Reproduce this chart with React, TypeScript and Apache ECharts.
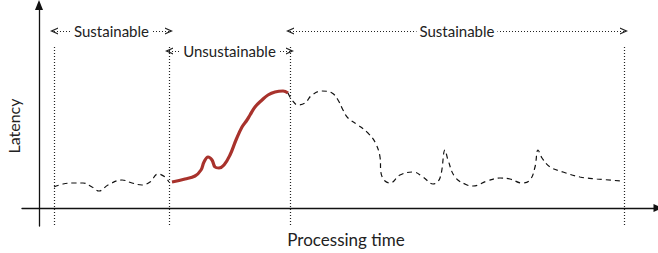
import React, { useEffect, useRef } from "react";
import * as echarts from "echarts";

// Processing time (x) and latency (y), in arbitrary units
const phase1X = [15, 24, 34, 44, 53, 60, 69, 83, 93, 103, 111, 119, 126, 130];
const phase1Y = [21, 24, 25, 25, 21, 17, 23, 28, 25, 23, 26, 34, 31, 26];

const phase2X = [133, 146, 156, 162, 165, 169, 173, 176, 180, 185, 191, 197, 203, 208, 211, 216, 223, 229, 236, 244, 249];
const phase2Y = [26, 29, 32, 38, 46, 51, 48, 41, 40, 43, 53, 68, 81, 88, 93, 101, 108, 113, 116, 117, 115];

const phase3X = [249, 253, 259, 266, 273, 283, 293, 299, 304, 309, 319, 329, 336, 341, 342, 346, 351, 361, 374, 384, 394, 401, 406, 409, 416, 428, 434, 448, 461, 471, 483, 491, 496, 499, 503, 511, 524, 541, 558, 583];
const phase3Y = [115, 108, 103, 105, 113, 117, 115, 108, 98, 90, 83, 75, 66, 51, 35, 27, 25, 33, 36, 31, 24, 30, 58, 48, 31, 23, 22, 27, 30, 29, 25, 28, 41, 58, 50, 41, 36, 31, 29, 27];

// Phase boundaries (x) and annotations
const boundaries = [15, 130, 251, 585];
const phaseNames = ["Sustainable", "Unsustainable", "Sustainable"];
const phaseLabelLevel = [177, 157, 177];
const boundaryLow = -17;
const boundaryHigh = 163;

const xTitle = "Processing time";
const yTitle = "Latency";

const zip = (xs: number[], ys: number[]) => xs.map((x, i) => [x, ys[i]]);

const FONT = "Lato, 'Open Sans', sans-serif";
const chevron = "path://M0,8 L4,0 L8,8 L6.5,8 L4,3 L1.5,8 Z";

export default function App() {
  const ref = useRef<HTMLDivElement>(null);

  useEffect(() => {
    if (!ref.current) return;
    const chart = echarts.init(ref.current, null, { renderer: "svg" });

    const verticals = boundaries.map((b) => [
      { coord: [b, boundaryLow] },
      { coord: [b, boundaryHigh] },
    ]);

    const bands = phaseNames.map((name, i) => [
      {
        coord: [boundaries[i], phaseLabelLevel[i]],
        symbol: chevron,
        symbolSize: [7, 8],
        label: {
          show: true,
          position: "insideMiddle",
          formatter: name,
          color: "#222",
          fontFamily: FONT,
          fontSize: 15,
          backgroundColor: "#fff",
          padding: [0, 3],
        },
        lineStyle: { type: [1, 2], width: 1, color: "#222" },
      },
      { coord: [boundaries[i + 1], phaseLabelLevel[i]], symbol: chevron, symbolSize: [7, 8] },
    ]);

    chart.setOption({
      animation: false,
      grid: { left: 22, right: 0, top: 5, bottom: 27 },
      xAxis: {
        type: "value",
        min: -17,
        max: 619,
        axisLine: {
          show: true,
          onZero: true,
          symbol: ["none", "triangle"],
          symbolSize: [8, 9],
          lineStyle: { color: "#111", width: 1.3 },
        },
        axisTick: { show: false },
        axisLabel: { show: false },
        splitLine: { show: false },
      },
      yAxis: {
        type: "value",
        min: -18,
        max: 203,
        axisLine: {
          show: true,
          onZero: true,
          symbol: ["none", "triangle"],
          symbolSize: [8, 10],
          lineStyle: { color: "#111", width: 1.3 },
        },
        axisTick: { show: false },
        axisLabel: { show: false },
        splitLine: { show: false },
      },
      graphic: [
        {
          type: "text",
          x: 13,
          y: 126,
          rotation: Math.PI / 2,
          style: {
            text: yTitle,
            fontFamily: FONT,
            fontSize: 16,
            fill: "#222",
            align: "center",
            verticalAlign: "middle",
          },
        },
        {
          type: "text",
          x: 346,
          y: 239,
          style: {
            text: xTitle,
            fontFamily: FONT,
            fontSize: 17,
            fill: "#222",
            align: "center",
            verticalAlign: "middle",
          },
        },
      ],
      series: [
        {
          type: "line",
          data: zip(phase1X, phase1Y),
          smooth: 0.4,
          symbol: "none",
          lineStyle: { color: "#111", width: 1.2, type: [5, 4] },
          markLine: {
            silent: true,
            symbol: "none",
            label: { show: false },
            lineStyle: { type: [1, 2], width: 1.2, color: "#222" },
            data: [...verticals, ...bands],
          },
        },
        {
          type: "line",
          data: zip(phase2X, phase2Y),
          smooth: 0.4,
          symbol: "none",
          lineStyle: { color: "#a8322c", width: 3.2 },
        },
        {
          type: "line",
          data: zip(phase3X, phase3Y),
          smooth: 0.4,
          symbol: "none",
          lineStyle: { color: "#111", width: 1.2, type: [5, 4] },
        },
      ],
    });

    return () => chart.dispose();
  }, []);

  return (
    <div
      ref={ref}
      style={{ position: "fixed", left: 0, top: 0, width: 658, height: 253, background: "#fff" }}
    />
  );
}
